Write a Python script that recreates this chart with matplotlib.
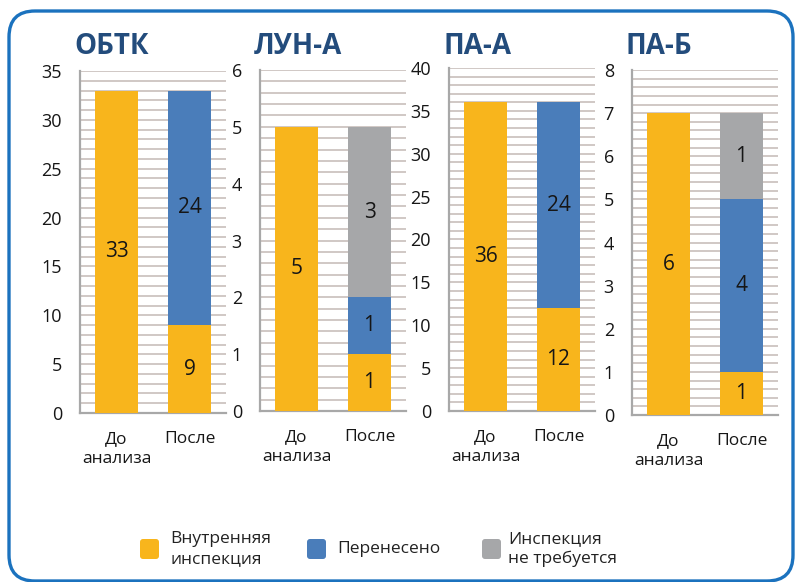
import numpy as np
import matplotlib
matplotlib.use("Agg")
import matplotlib.pyplot as plt
from matplotlib.patches import FancyBboxPatch
from matplotlib.transforms import IdentityTransform

plt.rcParams['font.family'] = ['Open Sans', 'DejaVu Sans']

# --- donnees ---
panels = ['ОБТК', 'ЛУН-А', 'ПА-А', 'ПА-Б']
categories = ['До\nанализа', 'После']
series = ['Внутренняя\nинспекция', 'Перенесено', 'Инспекция\nне требуется']

# hauteurs des segments [avant, apres] pour chaque serie
inner = [[33, 9], [5, 1], [36, 12], [7, 1]]
moved = [[0, 24], [0, 1], [0, 24], [0, 4]]
no_insp = [[0, 0], [0, 3], [0, 0], [0, 2]]

# etiquettes affichees sur les barres
inner_lbl = [['33', '9'], ['5', '1'], ['36', '12'], ['6', '1']]
moved_lbl = [['', '24'], ['', '1'], ['', '24'], ['', '4']]
no_insp_lbl = [['', ''], ['', '3'], ['', ''], ['', '1']]

y_max = [35, 6, 40, 8]
y_major = [5, 1, 5, 1]
y_minor = [1, 0.2, 1, 0.2]

colors = ['#F8B51C', '#4A7DBA', '#A6A7A9']
title_color = '#234C7C'
grid_color = '#C8BFBB'
text_color = '#161616'

W, H = 796, 582
fig = plt.figure(figsize=(W / 100, H / 100), dpi=100)

# positions des axes en pixels (gauche, haut, bas)
boxes = [(80, 71, 413), (260, 70, 411), (449, 68, 411), (632, 70, 415)]
ax_w = 146

for i, name in enumerate(panels):
    left, top, bottom = boxes[i]
    ax = fig.add_axes([left / W, 1 - bottom / H, ax_w / W, (bottom - top) / H])
    x = np.arange(len(categories))
    b1 = np.array(inner[i])
    b2 = np.array(moved[i])
    b3 = np.array(no_insp[i])
    r1 = ax.bar(x, b1, width=0.58, color=colors[0], zorder=3)
    r2 = ax.bar(x, b2, width=0.58, bottom=b1, color=colors[1], zorder=3)
    r3 = ax.bar(x, b3, width=0.58, bottom=b1 + b2, color=colors[2], zorder=3)
    for rects, lbls in [(r1, inner_lbl[i]), (r2, moved_lbl[i]), (r3, no_insp_lbl[i])]:
        ax.bar_label(rects, labels=lbls, label_type='center', fontsize=15,
                     color=text_color, zorder=4)

    ax.set_xlim(-0.5, 1.5)
    ax.set_ylim(0, y_max[i])
    ax.set_yticks(np.arange(0, y_max[i] + 0.01, y_major[i]))
    ax.set_yticks(np.arange(0, y_max[i] + 0.01, y_minor[i]), minor=True)
    ax.yaxis.grid(True, which='both', color=grid_color, linewidth=1.2, zorder=0)
    ax.set_axisbelow(True)
    ax.tick_params(axis='y', which='both', length=0, pad=13, labelsize=13,
                   labelcolor=text_color)
    ax.set_xticks(x)
    ax.set_xticklabels(categories, fontsize=12.5, color=text_color, linespacing=1.3,
                       va='top')
    ax.tick_params(axis='x', length=0, pad=13)
    for s in ['top', 'right']:
        ax.spines[s].set_visible(False)
    for s in ['left', 'bottom']:
        ax.spines[s].set_color('#A8A8A8')
        ax.spines[s].set_linewidth(1.6)
    ax.set_facecolor('none')

    fig.text((left - 6) / W, 1 - 46 / H, name, fontsize=20, fontweight='bold',
             color=title_color, ha='left', va='center')

# legende
leg_sq = [138, 305, 480]
leg_tx = [170, 337, 508]
for j in range(len(series)):
    sq = FancyBboxPatch((leg_sq[j] + 2, H - 560 + 1), 19, 20,
                        boxstyle='round,pad=0,rounding_size=3',
                        transform=IdentityTransform(), facecolor=colors[j],
                        edgecolor='none')
    fig.add_artist(sq)
    fig.text(leg_tx[j] / W, 1 - 549 / H, series[j], fontsize=12.5, color='#222222',
             ha='left', va='center', linespacing=1.35)

# cadre bleu arrondi
frame = FancyBboxPatch((9, 1), 784, 570, boxstyle='round,pad=0,rounding_size=26',
                       transform=IdentityTransform(), facecolor='none',
                       edgecolor='#1B72BE', linewidth=2.4)
fig.add_artist(frame)

plt.savefig('out.png', dpi=100)
